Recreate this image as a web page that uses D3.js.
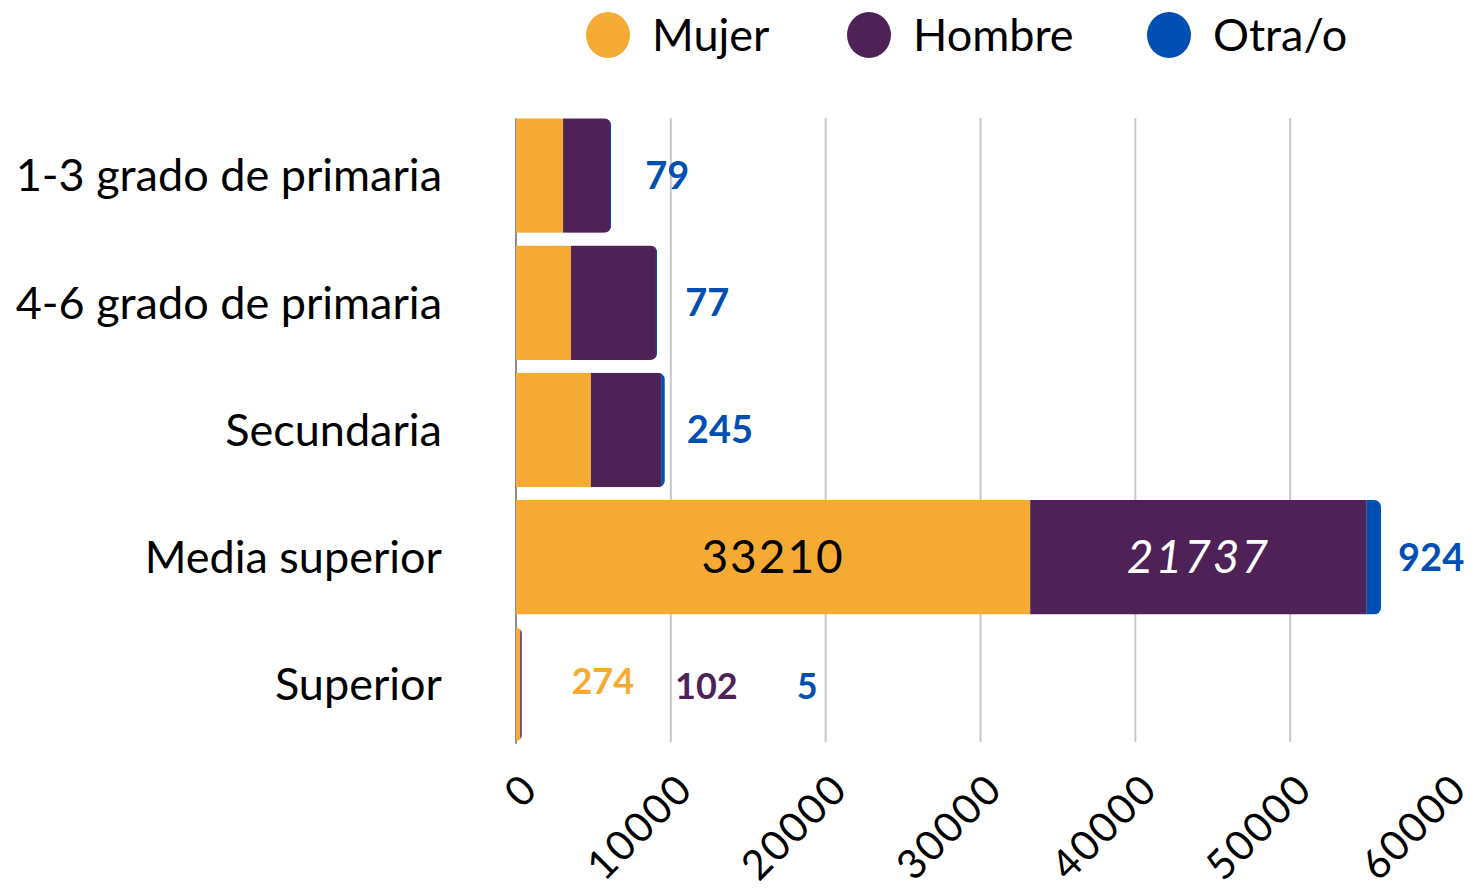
<!DOCTYPE html>
<meta charset="utf-8" />
<script src="https://d3js.org/d3.v7.min.js"></script>
<style>
  body { margin: 0; background: #fff; }
  text { font-family: Lato, "Noto Sans", sans-serif; }
</style>
<body>
  <div id="my_dataviz"></div>
</body>
<script>
  // data
  var categories = ["1-3 grado de primaria", "4-6 grado de primaria", "Secundaria", "Media superior", "Superior"];
  var series = ["Mujer", "Hombre", "Otra/o"];
  var mujer = [3040, 3550, 4840, 33210, 274];
  var hombre = [3030, 5490, 4530, 21737, 102];
  var otra = [79, 77, 245, 924, 5];
  var xTicks = [0, 10000, 20000, 30000, 40000, 50000, 60000];

  var colors = ["#F5AB33", "#4F2257", "#0050B4"];

  var width = 1479, height = 890;
  var svg = d3.select("#my_dataviz").append("svg")
    .attr("width", width).attr("height", height);

  var x = d3.scaleLinear().domain([0, 60000]).range([516, 1445]);
  var y = d3.scaleBand().domain(categories).range([112, 748])
    .paddingInner(0.1).paddingOuter(0.05);

  var rows = categories.map(function (c, i) {
    return { cat: c, Mujer: mujer[i], Hombre: hombre[i], "Otra/o": otra[i] };
  });
  var stacked = d3.stack().keys(series)(rows);

  // grid lines
  var y0 = y(categories[0]), y1 = y(categories[4]) + y.bandwidth();
  svg.append("g").selectAll("line")
    .data(xTicks.filter(function (d) { return d > 0 && d < 60000; }))
    .enter().append("line")
    .attr("x1", function (d) { return x(d); })
    .attr("x2", function (d) { return x(d); })
    .attr("y1", y0).attr("y2", y1)
    .attr("stroke", "#c8c8c8").attr("stroke-width", 2);

  // axis line
  svg.append("line")
    .attr("x1", x(0)).attr("x2", x(0))
    .attr("y1", y0).attr("y2", y1 + 2)
    .attr("stroke", "#666").attr("stroke-width", 1.5);

  // clip each bar row with rounded right end
  var defs = svg.append("defs");
  rows.forEach(function (r, i) {
    var total = r.Mujer + r.Hombre + r["Otra/o"];
    defs.append("clipPath").attr("id", "clip" + i)
      .append("rect")
      .attr("x", x(0) - 20)
      .attr("y", y(r.cat))
      .attr("width", x(total) - x(0) + 20)
      .attr("height", y.bandwidth())
      .attr("rx", 7);
  });

  var layer = svg.append("g").selectAll("g")
    .data(stacked).enter().append("g")
    .attr("fill", function (d, i) { return colors[i]; });

  layer.selectAll("rect")
    .data(function (d) { return d; })
    .enter().append("rect")
    .attr("clip-path", function (d, i) { return "url(#clip" + i + ")"; })
    .attr("x", function (d) { return x(d[0]); })
    .attr("y", function (d) { return y(d.data.cat); })
    .attr("width", function (d) { return Math.max(1.2, x(d[1]) - x(d[0])); })
    .attr("height", y.bandwidth());

  // category labels
  svg.append("g").selectAll("text")
    .data(categories).enter().append("text")
    .attr("x", 442)
    .attr("y", function (d) { return y(d) + y.bandwidth() / 2; })
    .attr("dy", "0.35em")
    .attr("text-anchor", "end")
    .attr("font-size", 45)
    .attr("fill", "#000")
    .text(function (d) { return d; });

  // x tick labels rotated
  svg.append("g").selectAll("text")
    .data(xTicks).enter().append("text")
    .attr("transform", function (d) { return "translate(" + (x(d) + 4) + ",771) rotate(-45)"; })
    .attr("text-anchor", "end")
    .attr("dy", "0.7em")
    .attr("font-size", 41)
    .attr("letter-spacing", 2)
    .attr("fill", "#000")
    .text(function (d) { return d; });

  // Otra/o labels for first four rows (small nudges to follow the original placement)
  var otraNudge = [34, 28, 22, 17];
  svg.append("g").selectAll("text")
    .data(rows.slice(0, 4)).enter().append("text")
    .attr("x", function (d, i) { return x(d.Mujer + d.Hombre + d["Otra/o"]) + otraNudge[i]; })
    .attr("y", function (d) { return y(d.cat) + y.bandwidth() / 2; })
    .attr("dy", "0.35em")
    .attr("font-size", 38)
    .attr("font-weight", "bold")
    .attr("fill", colors[2])
    .text(function (d) { return d["Otra/o"]; });

  // inside labels Media superior
  var ms = rows[3];
  svg.append("text")
    .attr("x", x(ms.Mujer / 2)).attr("y", y(ms.cat) + y.bandwidth() / 2)
    .attr("dy", "0.35em").attr("text-anchor", "middle")
    .attr("font-size", 46).attr("letter-spacing", 2).attr("fill", "#000")
    .text(ms.Mujer);
  svg.append("text")
    .attr("x", x(ms.Mujer + ms.Hombre / 2)).attr("y", y(ms.cat) + y.bandwidth() / 2)
    .attr("dy", "0.35em").attr("text-anchor", "middle")
    .attr("font-size", 46).attr("letter-spacing", 2).attr("font-style", "italic")
    .attr("fill", "#fff")
    .text(ms.Hombre);

  // Superior labels, spread out to the right
  var sup = rows[4];
  var supPos = [5600, 12300, 18800];
  var supDy = [-3, 2, 2];
  series.forEach(function (s, i) {
    svg.append("text")
      .attr("x", x(supPos[i]))
      .attr("y", y(sup.cat) + y.bandwidth() / 2 + supDy[i])
      .attr("dy", "0.35em").attr("text-anchor", "middle")
      .attr("font-size", 36).attr("font-weight", "bold")
      .attr("fill", colors[i])
      .text(sup[s]);
  });

  // legend
  var legX = [608, 869, 1169];
  var leg = svg.append("g").selectAll("g")
    .data(series).enter().append("g")
    .attr("transform", function (d, i) { return "translate(" + legX[i] + ",35)"; });
  leg.append("ellipse").attr("rx", 22).attr("ry", 23)
    .attr("fill", function (d, i) { return colors[i]; });
  leg.append("text").attr("x", 44).attr("dy", "0.35em")
    .attr("font-size", 45).attr("fill", "#000")
    .text(function (d) { return d; });
</script>
